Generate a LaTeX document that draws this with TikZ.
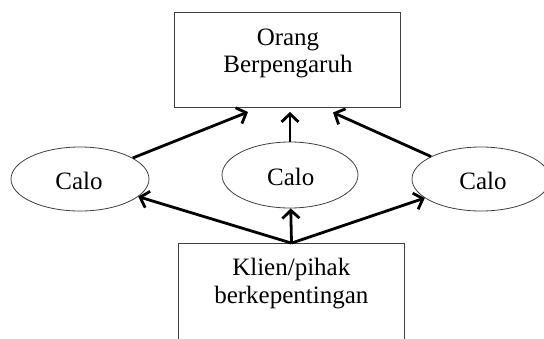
\documentclass[tikz,border=0pt]{standalone}
\usepackage{fontspec}
\setmainfont{Liberation Serif}
\usetikzlibrary{arrows.meta,shapes.geometric}
\begin{document}
\begin{tikzpicture}[x=1pt,y=-1pt,
  every node/.style={font=\fontsize{25}{28}\selectfont},
  boxnode/.style={draw=black!75,line width=0.8pt,rectangle,inner sep=0pt},
  calonode/.style={draw=black!75,line width=0.8pt,ellipse,inner sep=0pt},
  txt/.style={inner sep=0pt,anchor=base},
  arr/.style={line width=2.8pt,-{Straight Barb[length=8pt,width=17pt]}}
]
\useasboundingbox (0,0) rectangle (544,338);
\clip (0,0) rectangle (544,338);
% boxes
\node[boxnode,minimum width=226pt,minimum height=95.5pt] (top) at (287.5,59.7) {};
\node[boxnode,minimum width=226pt,minimum height=120pt] (bot) at (291.5,303.5) {};
\node[txt] (t1) at (288,45) {Orang};
\node[txt] (t2) at (288,72.7) {Berpengaruh};
\node[txt] (b1) at (291.3,275) {Klien/pihak};
\node[txt] (b2) at (291.3,303.3) {berkepentingan};
% ellipses
\node[calonode,minimum width=138pt,minimum height=64pt] (L) at (80,179) {};
\node[calonode,minimum width=136pt,minimum height=66pt] (M) at (290,175) {};
\node[calonode,minimum width=138pt,minimum height=64pt] (R) at (481,179) {};
\node[txt] (lc) at (79,189.3) {Calo};
\node[txt] (mc) at (290.7,185.7) {Calo};
\node[txt] (rc) at (483,189.3) {Calo};
% arrow targets
\coordinate (a1) at (248,112);
\coordinate (a2) at (290,112);
\coordinate (a3) at (333,112.5);
\draw[arr] (L) -- (a1);
\draw[arr] (M) -- (a2);
\draw[arr] (R) -- (a3);
\draw[arr] (bot.north) -- (L);
\draw[arr] (bot.north) -- (M);
\draw[arr] (bot.north) -- (R);
\end{tikzpicture}
\end{document}
